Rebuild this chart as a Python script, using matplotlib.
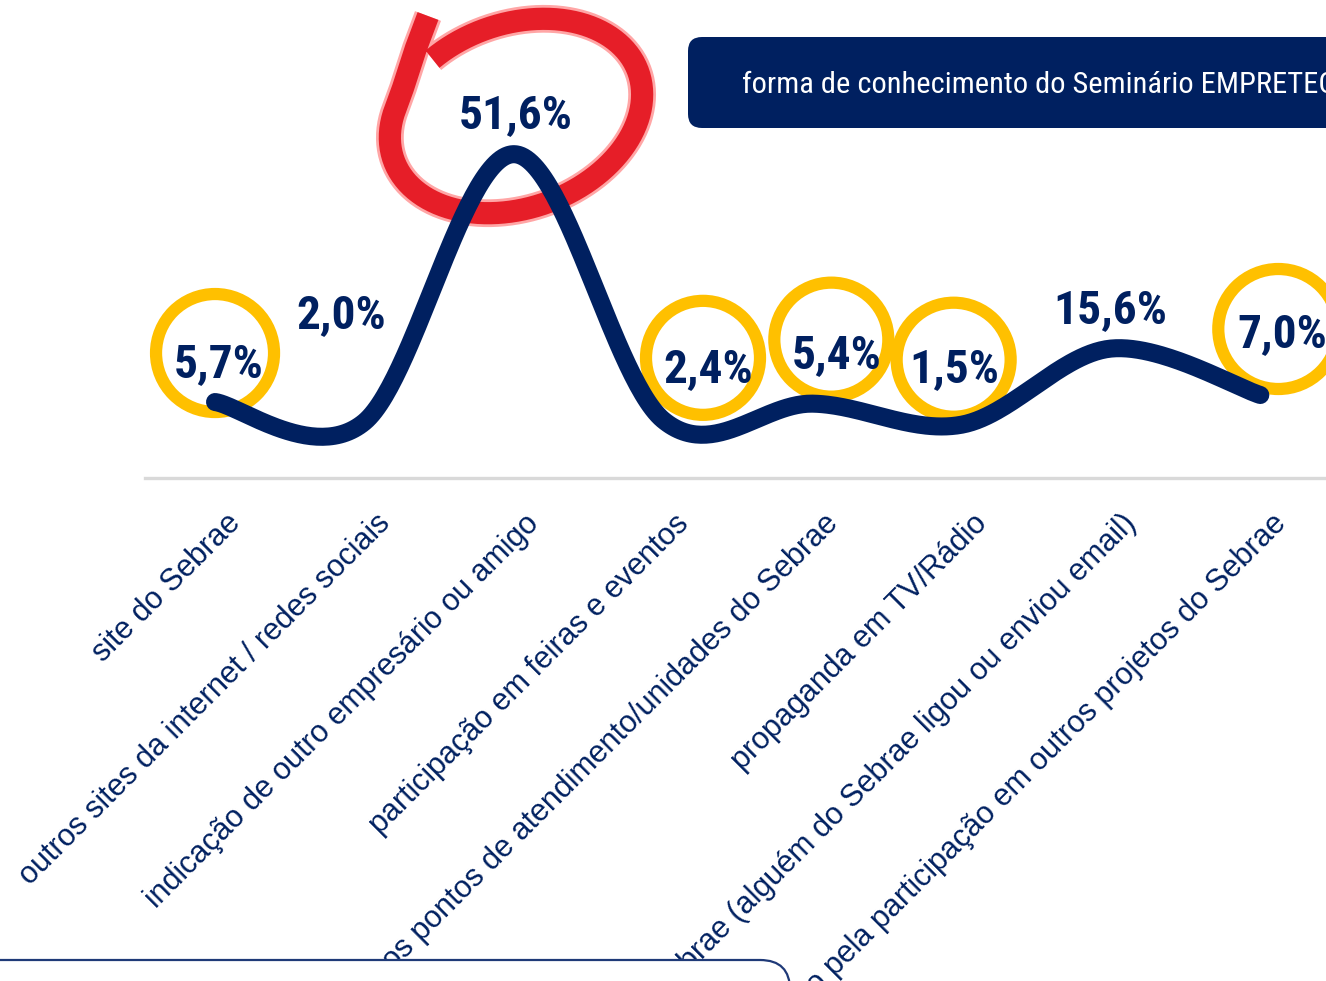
import numpy as np
import matplotlib
matplotlib.use("Agg")
import matplotlib.pyplot as plt
import matplotlib.font_manager as fm
from matplotlib.patches import Circle, FancyBboxPatch
from matplotlib.transforms import Affine2D, IdentityTransform, blended_transform_factory, ScaledTranslation

# ---------------- data ----------------
categories = [
    "site do Sebrae",
    "outros sites da internet / redes sociais",
    "indicação de outro empresário ou amigo",
    "participação em feiras e eventos",
    "visita aos pontos de atendimento/unidades do Sebrae",
    "propaganda em TV/Rádio",
    "contato do Sebrae (alguém do Sebrae ligou ou enviou email)",
    "conhecimento pela participação em outros projetos do Sebrae",
]
values = [5.7, 2.0, 51.6, 2.4, 5.4, 1.5, 15.6, 7.0]
value_labels = ["5,7%", "2,0%", "51,6%", "2,4%", "5,4%", "1,5%", "15,6%", "7,0%"]
title_text = "forma de conhecimento do Seminário EMPRETEC"

# ---------------- layout / style ----------------
W, H = 1326, 981
NAVY = "#002060"
YELLOW = "#FFC000"
RED = "#E61E28"

label_off = [(4, -25), (-23, -94), (2, -26), (45, -38), (24, -36), (-7, -43), (-1, -26), (22, -48)]
rings = {0: (0, -49, 59), 3: (40, -62, 57), 4: (19, -64, 57), 5: (-8, -65, 57), 7: (18, -66, 60)}


def narrow_font(bold):
    """Pick a narrow / condensed sans font if one is installed."""
    ranking = ["liberation sans narrow", "arial narrow", "roboto condensed", "open sans condensed",
               "noto sans", "dejavu sans", "liberation sans"]
    best = None
    for f in fm.fontManager.ttflist:
        nm = f.name.lower()
        fn = f.fname.lower()
        st = str(f.stretch).lower()
        cond = ("narrow" in nm or "condensed" in nm or "narrow" in fn or "condensed" in fn
                or st in ("condensed", "semi-condensed", "600", "700", "semicondensed"))
        if "extra" in fn or "ultra" in fn or "extra" in st:
            continue
        if not cond:
            continue
        w = f.weight if isinstance(f.weight, int) else {"bold": 700, "normal": 400, "regular": 400}.get(str(f.weight).lower(), 400)
        if bold and w < 600 or (not bold and w != 400):
            continue
        if f.style != "normal":
            continue
        rank = len(ranking)
        for k, r in enumerate(ranking):
            if nm.startswith(r):
                rank = k
                break
        if best is None or rank < best[0]:
            best = (rank, f.fname)
    if best is None:
        return fm.FontProperties(family="Liberation Sans", weight="bold" if bold else "normal")
    return fm.FontProperties(fname=best[1])


fp_bold = narrow_font(True)
fp_reg = narrow_font(False)

fig = plt.figure(figsize=(W / 100, H / 100), dpi=100)
fig.patch.set_facecolor("white")
renderer = fig.canvas.get_renderer()

ax = fig.add_axes([145 / W, (H - 478) / H, (W - 145) / W, 478 / H])
ax.set_xlim(-0.469, 7.44)
ax.set_ylim(-8.37, 80.15)
ax.set_facecolor("none")
for s in ["top", "right", "left"]:
    ax.spines[s].set_visible(False)
ax.spines["bottom"].set_color("#D9D9D9")
ax.spines["bottom"].set_linewidth(2.4)
ax.set_xticks([])
ax.set_yticks([])

# smooth (Catmull-Rom / Hermite) curve through the data points
x = np.arange(len(values), dtype=float)
y = np.array(values, dtype=float)
P = np.column_stack([x, y])
Pe = np.vstack([P[0], P, P[-1]])
curve = []
t = np.linspace(0, 1, 60)[:, None]
h00 = 2 * t**3 - 3 * t**2 + 1
h10 = t**3 - 2 * t**2 + t
h01 = -2 * t**3 + 3 * t**2
h11 = t**3 - t**2
for i in range(len(P) - 1):
    p0, p1, p2, p3 = Pe[i], Pe[i + 1], Pe[i + 2], Pe[i + 3]
    m1 = (p2 - p0) / 2
    m2 = (p3 - p1) / 2
    seg = h00 * p1 + h10 * m1 + h01 * p2 + h11 * m2
    curve.append(seg if i == 0 else seg[1:])
curve = np.vstack(curve)
ax.plot(curve[:, 0], curve[:, 1], color=NAVY, lw=13, solid_capstyle="round", zorder=3, clip_on=False)

# yellow rings (beneath the line)
for i, (dx, dy, r) in rings.items():
    cx, cy = ax.transData.transform((x[i], y[i]))
    ax.add_patch(Circle((cx + dx, cy - dy), r, transform=IdentityTransform(), fill=False,
                        ec=YELLOW, lw=8.8, zorder=1, clip_on=False))

# value labels: fit size so that "51,6%" is ~114 px wide (cap 35 pt)
probe = fig.text(0, 0, "51,6%", fontproperties=fp_bold, fontsize=34)
wpx = probe.get_window_extent(renderer=renderer).width
probe.remove()
vsize = min(35.0, 34.0 * 114.0 / wpx)
for i, lab in enumerate(value_labels):
    dx, dy = label_off[i]
    a = ax.annotate(lab, (x[i], y[i]), xytext=(dx * 0.72, -dy * 0.72), textcoords="offset points",
                    ha="center", va="baseline", fontproperties=fp_bold, color=NAVY, zorder=6,
                    annotation_clip=False)
    a.set_fontsize(vsize)

# category labels (rotated 45 degrees)
btrans = blended_transform_factory(ax.transData, ax.transAxes) + ScaledTranslation(21 / 100, -41 / 100, fig.dpi_scale_trans)
for i, cat in enumerate(categories):
    ax.text(x[i], 0, cat, transform=btrans, rotation=45, rotation_mode="anchor",
            ha="right", va="center", fontsize=22, color=NAVY,
            family=["Liberation Sans", "DejaVu Sans"], zorder=2)

# pixel coordinate transform (origin top-left)
pix = Affine2D().scale(1, -1).translate(0, H)

# red hand-drawn loop around the peak
th = np.radians(np.linspace(150, 477, 220))
phi = np.radians(20)
a_, b_ = 130, 92
cx0, cy0 = 516, 116
ex = cx0 + a_ * np.cos(th) * np.cos(phi) - b_ * np.sin(th) * np.sin(phi)
ey = cy0 - (a_ * np.cos(th) * np.sin(phi) + b_ * np.sin(th) * np.cos(phi))
rx = np.concatenate([[428, 416, 403], ex])
ry = np.concatenate([[16, 48, 88], ey])
ax.plot(rx, ry, transform=pix, color="#FF0000", lw=20, alpha=0.35, solid_capstyle="butt",
        solid_joinstyle="round", zorder=2.6, clip_on=False)
ax.plot(rx, ry, transform=pix, color=RED, lw=16, solid_capstyle="butt",
        solid_joinstyle="round", zorder=2.7, clip_on=False)

# title box (top right, clipped by the figure edge)
ax.add_patch(FancyBboxPatch((688, 37), 760, 91, boxstyle="round,pad=0,rounding_size=14",
                            transform=pix, fc=NAVY, ec="none", zorder=8, clip_on=False))
probe = fig.text(0, 0, title_text, fontproperties=fp_reg, fontsize=22)
twpx = probe.get_window_extent(renderer=renderer).width
probe.remove()
tsize = min(22.0, 22.0 * 592.0 / twpx)
tt = ax.text(742, 85, title_text, transform=pix, ha="left", va="center", color="white",
             fontproperties=fp_reg, zorder=9, clip_on=False)
tt.set_fontsize(tsize)

# bottom-left white box with navy outline covering label ends
ax.add_patch(FancyBboxPatch((-40, 960), 830, 80, boxstyle="round,pad=0,rounding_size=30",
                            transform=pix, fc="white", ec="#1F3A78", lw=1.6, zorder=10, clip_on=False))

fig.savefig("out.png", dpi=100, facecolor="white")
